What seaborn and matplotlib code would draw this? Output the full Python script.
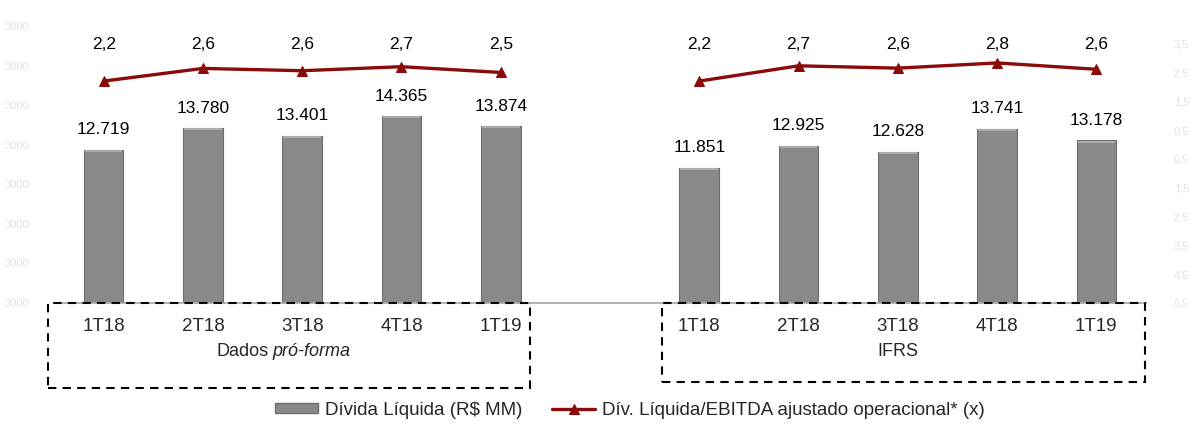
import matplotlib
matplotlib.use("Agg")
import matplotlib.pyplot as plt
import matplotlib.transforms as mtransforms
from matplotlib.patches import Rectangle
import seaborn as sns
import pandas as pd
import numpy as np

# ---- data ----
quarters = ["1T18", "2T18", "3T18", "4T18", "1T19"]
divida_proforma = [12719, 13780, 13401, 14365, 13874]
divida_ifrs = [11851, 12925, 12628, 13741, 13178]
alav_proforma = [2.20, 2.64, 2.56, 2.70, 2.50]
alav_ifrs = [2.20, 2.73, 2.65, 2.83, 2.61]
alav_proforma_labels = ["2,2", "2,6", "2,6", "2,7", "2,5"]
alav_ifrs_labels = ["2,2", "2,7", "2,6", "2,8", "2,6"]
left_tick_labels = ["3000"] * 8
right_tick_labels = ["3,5", "2,5", "1,5", "0,5", "0,5", "1,5", "2,5", "3,5", "4,5", "5,5"]

BAR_COLOR = "#898989"
LINE_COLOR = "#8B0A0A"

sns.set_theme(style="white")
plt.rcParams["font.family"] = ["Liberation Sans", "DejaVu Sans"]

pf_keys = ["P" + q for q in quarters]
if_keys = ["I" + q for q in quarters]
order = pf_keys + ["gap"] + if_keys
df = pd.DataFrame({
    "slot": pf_keys + if_keys,
    "divida": divida_proforma + divida_ifrs,
})

fig = plt.figure(figsize=(11.91, 4.24), dpi=100)
ax = fig.add_axes([54 / 1191, 121 / 424, 1092 / 1191, 283 / 424])

sns.barplot(data=df, x="slot", y="divida", order=order, color=BAR_COLOR,
            width=0.4, saturation=1, edgecolor="#6e6e6e", linewidth=0.8, ax=ax)

# light top edge on the bars
for p in ax.patches:
    if p.get_height() > 0:
        ax.plot([p.get_x() + 0.01, p.get_x() + p.get_width() - 0.01],
                [p.get_y() + p.get_height() - 60] * 2,
                color="#b5b5b5", lw=1.2, solid_capstyle="butt", zorder=3)

ax.set_ylim(5280, 19030)
ax.set_xlim(-0.5, 10.5)
ax.set_xlabel("")
ax.set_ylabel("")

# bar value labels
for p in ax.patches:
    if p.get_height() > 0:
        v = int(round(p.get_y() + p.get_height()))
        ax.annotate(f"{v:,}".replace(",", "."),
                    (p.get_x() + p.get_width() / 2, p.get_y() + p.get_height()),
                    xytext=(0, 9), textcoords="offset points",
                    ha="center", va="bottom", fontsize=12.5, color="black")

# x axis
ax.set_xticks(range(len(order)))
ax.set_xticklabels(quarters + [""] + quarters, fontsize=13.5)
ax.tick_params(axis="x", which="major", length=0, pad=11)
ax.set_xticks(np.arange(-0.5, len(order)), minor=True)
ax.tick_params(axis="x", which="minor", length=4, color="#a6a6a6", width=1,
               direction="out")

# faint left axis labels
yt = np.linspace(5280, 19030 - 300, 8)
ax.set_yticks(yt)
ax.set_yticklabels(left_tick_labels, fontsize=8, color="#e2e2e2")
ax.tick_params(axis="y", length=0, pad=18)

for s in ["top", "left", "right"]:
    ax.spines[s].set_visible(False)
ax.spines["bottom"].set_color("#a6a6a6")
ax.spines["bottom"].set_linewidth(1.2)

# line on secondary axis
ax2 = ax.twinx()
sns.lineplot(x=list(range(0, 5)), y=alav_proforma, ax=ax2, color=LINE_COLOR,
             lw=2.4, marker="^", markersize=7, markeredgecolor=LINE_COLOR)
sns.lineplot(x=list(range(6, 11)), y=alav_ifrs, ax=ax2, color=LINE_COLOR,
             lw=2.4, marker="^", markersize=7, markeredgecolor=LINE_COLOR)
ax2.set_ylim(-5.15, 4.32)
ax2.set_xlim(-0.5, 10.5)

# ratio labels all sit on one row above the line
trans2 = mtransforms.blended_transform_factory(ax2.transData, ax2.transAxes)
for xs, labs in [(range(0, 5), alav_proforma_labels),
                 (range(6, 11), alav_ifrs_labels)]:
    for x, lab in zip(xs, labs):
        ax2.text(x, 0.912, lab, transform=trans2, ha="center", va="center",
                 fontsize=12.5, color="black")

ax2.set_yticks(np.arange(3.5, -6.0, -1.0))
ax2.set_yticklabels(right_tick_labels, fontsize=8, color="#e2e2e2")
ax2.tick_params(axis="y", length=0, pad=20)
ax2.set_ylabel("")
for s in ["top", "left", "right", "bottom"]:
    ax2.spines[s].set_visible(False)

# dashed group boxes
trans = mtransforms.blended_transform_factory(ax.transData, ax.transAxes)
box_kw = dict(fill=False, edgecolor="black", linewidth=1.5,
              linestyle=(0, (4, 3)), transform=trans, clip_on=False, zorder=5)
ax.add_patch(Rectangle((-0.564, -0.300), 4.854, 0.300, **box_kw))
ax.add_patch(Rectangle((5.62, -0.279), 4.87, 0.279, **box_kw))

# group labels
ax.text(1.66, -0.173, "Dados", transform=trans, ha="right", va="center",
        fontsize=13)
ax.text(1.70, -0.173, "pró-forma", transform=trans, ha="left", va="center",
        fontsize=13, style="italic")
ax.text(8.0, -0.173, "IFRS", transform=trans, ha="center", va="center",
        fontsize=13)

# legend
bar_handle = Rectangle((0, 0), 1, 1, facecolor=BAR_COLOR, edgecolor="#6e6e6e")
line_handle = ax2.get_lines()[0]
fig.legend([bar_handle, line_handle],
           ["Dívida Líquida (R$ MM)", "Dív. Líquida/EBITDA ajustado operacional* (x)"],
           loc="center", bbox_to_anchor=(0.529, 0.033), ncol=2, frameon=False,
           fontsize=13.5, handlelength=2.3, handleheight=0.45, columnspacing=1.6,
           handletextpad=0.35)

fig.savefig("out.png", dpi=100)
